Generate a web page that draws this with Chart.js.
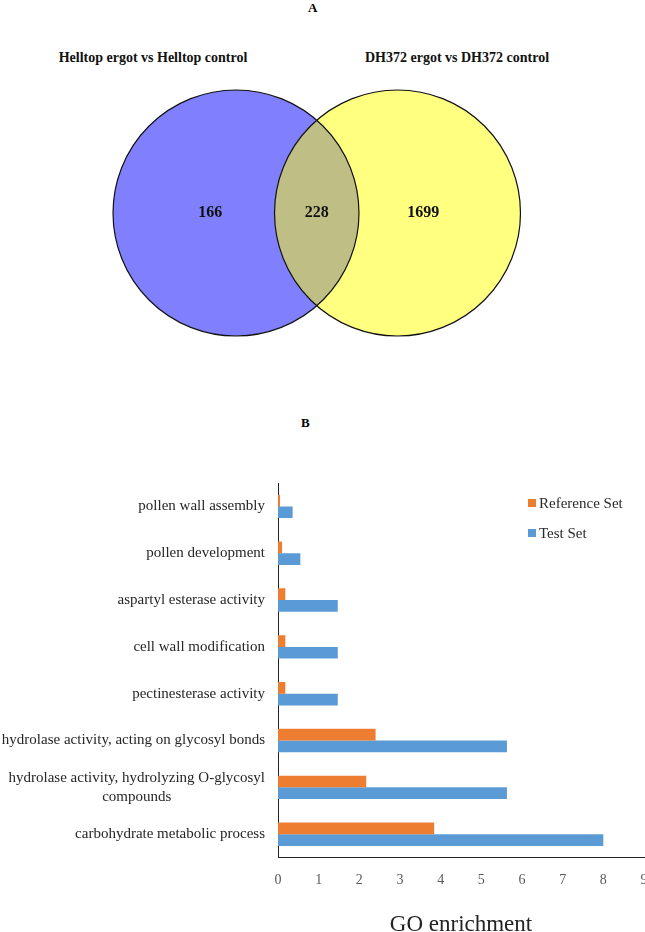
<!DOCTYPE html>
<html>
<head>
<meta charset="utf-8">
<script src="https://cdn.jsdelivr.net/npm/chart.js@4.4.1/dist/chart.umd.min.js"></script>
<style>
  body { margin: 0; background: #fff; }
  #page { position: relative; width: 645px; height: 932px; overflow: hidden; background: #fff;
          font-family: "Liberation Serif", "Times New Roman", serif; }
  .head { position: absolute; font-weight: bold; font-size: 13px; color: #000; }
  .setTitle { position: absolute; width: 300px; text-align: center; font-weight: bold;
              font-size: 14px; line-height: 16px; color: #111; }
  #vennBox { position: absolute; left: 0; top: 0; width: 645px; height: 400px; }
  #barBox { position: absolute; left: 0; top: 460px; width: 646px; height: 479px; }
  #legend { position: absolute; left: 528px; top: 493px; font-size: 15px; color: #2a2a2a; }
  #legend div { height: 30px; line-height: 20px; white-space: nowrap; }
  #legend span.box { display: inline-block; width: 8px; height: 8px; margin-right: 3px; vertical-align: 1px; }
</style>
</head>
<body>
<div id="page">
  <div class="head" style="left:308px; top:0px;">A</div>
  <div class="setTitle" id="t0" style="left:3px; top:50px;"></div>
  <div class="setTitle" id="t1" style="left:307px; top:50px;"></div>
  <div id="vennBox"><canvas id="venn"></canvas></div>

  <div class="head" style="left:301px; top:415px;">B</div>
  <div id="barBox"><canvas id="bars"></canvas></div>
  <div id="legend"></div>
</div>
<script>
// Venn diagram (A)
const vennSets = ["Helltop ergot vs Helltop control", "DH372 ergot vs DH372 control"];
const vennCounts = [166, 228, 1699];   // only first, both, only second

// GO enrichment (B)
const categories = [
  "pollen wall assembly",
  "pollen development",
  "aspartyl esterase activity",
  "cell wall modification",
  "pectinesterase activity",
  "hydrolase activity, acting on glycosyl bonds",
  ["hydrolase activity, hydrolyzing O-glycosyl", "compounds"],
  "carbohydrate metabolic process"
];
const seriesNames = ["Reference Set", "Test Set"];
const referenceSet = [0.05, 0.1, 0.18, 0.18, 0.18, 2.4, 2.17, 3.84];
const testSet = [0.36, 0.55, 1.47, 1.47, 1.47, 5.63, 5.63, 8.0];
const seriesColors = ["#ED7D31", "#5B9BD5"];
const vennColors = ["#8080FF", "#FFFF80", "#BFBF85"];

const serif = "'Liberation Serif', 'Times New Roman', serif";

document.getElementById("t0").textContent = vennSets[0];
document.getElementById("t1").textContent = vennSets[1];

const circleR = 1.523; // in axis units
function unitPx(chart, v) {
  const s = chart.scales.x;
  return Math.abs(s.getPixelForValue(v) - s.getPixelForValue(0));
}

const vennPaint = {
  id: "vennPaint",
  afterLayout(chart) {
    chart.$vennR = unitPx(chart, circleR);
  },
  beforeDatasetsDraw(chart) {
    // base fills, in case the bubble elements are skipped
    const ctx = chart.ctx;
    const r = chart.$vennR;
    ctx.save();
    [0, 1].forEach(i => {
      const p = chart.getDatasetMeta(i).data[0];
      ctx.beginPath();
      ctx.arc(p.x, p.y, r, 0, Math.PI * 2);
      ctx.fillStyle = vennColors[i];
      ctx.fill();
    });
    ctx.restore();
  },
  afterDatasetsDraw(chart) {
    const a = chart.getDatasetMeta(0).data[0];
    const b = chart.getDatasetMeta(1).data[0];
    const r = chart.$vennR;
    const ctx = chart.ctx;
    ctx.save();
    ctx.beginPath();
    ctx.arc(a.x, a.y, r, 0, Math.PI * 2);
    ctx.clip();
    ctx.beginPath();
    ctx.arc(b.x, b.y, r, 0, Math.PI * 2);
    ctx.fillStyle = vennColors[2];
    ctx.fill();
    ctx.restore();
    ctx.save();
    ctx.strokeStyle = "#111";
    ctx.lineWidth = 1.2;
    [a, b].forEach(p => { ctx.beginPath(); ctx.arc(p.x, p.y, r, 0, Math.PI * 2); ctx.stroke(); });
    // counts
    const xs = [-1.32, 0, 1.32];
    ctx.fillStyle = "#111";
    ctx.font = "bold 16px " + serif;
    ctx.textAlign = "center";
    ctx.textBaseline = "middle";
    vennCounts.forEach((c, i) => {
      ctx.fillText(String(c), chart.scales.x.getPixelForValue(xs[i]), chart.scales.y.getPixelForValue(0));
    });
    ctx.restore();
  }
};

new Chart(document.getElementById("venn"), {
  type: "bubble",
  data: {
    datasets: [
      { label: vennSets[0], data: [{ x: -1, y: 0 }], backgroundColor: vennColors[0], borderColor: "#111", borderWidth: 1.2,
        radius: ctx => ctx.chart.$vennR || 0, clip: false },
      { label: vennSets[1], data: [{ x: 1, y: 0 }], backgroundColor: vennColors[1], borderColor: "#111", borderWidth: 1.2,
        radius: ctx => ctx.chart.$vennR || 0, clip: false }
    ]
  },
  options: {
    responsive: true,
    maintainAspectRatio: false,
    animation: false,
    events: [],
    layout: { padding: 0 },
    plugins: { legend: { display: false }, tooltip: { enabled: false } },
    scales: {
      x: { type: "linear", display: false, min: -3.9226, max: 4.065 },
      y: { type: "linear", display: false, min: -2.3158, max: 2.6378 }
    }
  },
  plugins: [vennPaint]
});

// legend built from series names
document.getElementById("legend").innerHTML = seriesNames.map((n, i) =>
  '<div><span class="box" style="background:' + seriesColors[i] + '"></span>' + n + '</div>').join("");

const catLabels = {
  id: "catLabels",
  afterDraw(chart) {
    const ctx = chart.ctx;
    const y = chart.scales.y;
    const right = chart.chartArea.left - 13;
    ctx.save();
    ctx.font = "15px " + serif;
    ctx.fillStyle = "#262626";
    ctx.textAlign = "center";
    ctx.textBaseline = "middle";
    categories.forEach((c, i) => {
      const lines = Array.isArray(c) ? c : [c];
      const w = Math.max(...lines.map(l => ctx.measureText(l).width));
      const cx = right - w / 2;
      const cy = y.getPixelForValue(i);
      const lh = 19;
      lines.forEach((l, k) => {
        ctx.fillText(l, cx, cy + (k - (lines.length - 1) / 2) * lh);
      });
    });
    ctx.restore();
  }
};

new Chart(document.getElementById("bars"), {
  type: "bar",
  data: {
    labels: categories,
    datasets: [
      { label: seriesNames[0], data: referenceSet, backgroundColor: seriesColors[0] },
      { label: seriesNames[1], data: testSet, backgroundColor: seriesColors[1] }
    ]
  },
  options: {
    indexAxis: "y",
    responsive: true,
    maintainAspectRatio: false,
    animation: false,
    events: [],
    layout: { padding: { top: 23, right: 2, left: 0, bottom: 0 } },
    datasets: { bar: { categoryPercentage: 0.5, barPercentage: 1.0 } },
    plugins: { legend: { display: false }, tooltip: { enabled: false } },
    scales: {
      x: {
        min: 0, max: 9,
        grid: { display: false },
        border: { display: true, color: "#222", width: 1 },
        ticks: { stepSize: 1, padding: 6, color: "#595959", font: { family: serif, size: 14 } },
        title: { display: true, text: "GO enrichment", color: "#222",
                 font: { family: serif, size: 23 }, padding: { top: 17, bottom: 0 } },
        afterFit(scale) { scale.paddingRight = 0; scale.paddingLeft = 0; }
      },
      y: {
        grid: { display: false },
        border: { display: true, color: "#222", width: 1 },
        ticks: { display: false },
        afterFit(scale) { scale.width = 278; }
      }
    }
  },
  plugins: [catLabels]
});
</script>
</body>
</html>
